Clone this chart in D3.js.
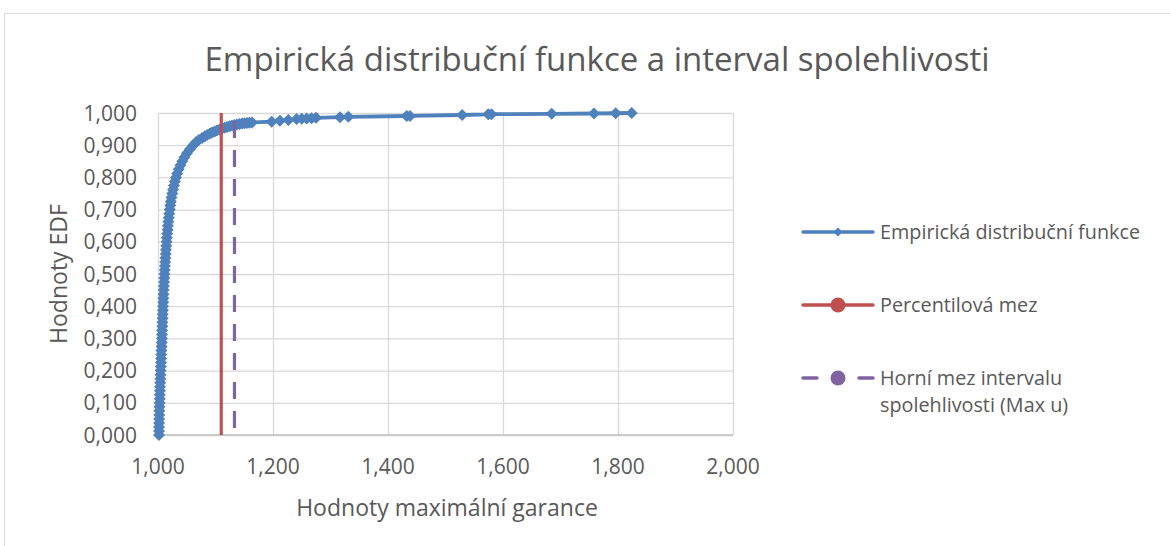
<!DOCTYPE html>
<html>
<head>
<meta charset="utf-8">
<script src="https://cdn.jsdelivr.net/npm/d3@7"></script>
<style>
  body { margin: 0; background: #fff; }
  svg text { font-family: "Open Sans", sans-serif; fill: #595959; }
</style>
</head>
<body>
<div class="container"></div>
<script>
// values
var xTicks = [1.0, 1.2, 1.4, 1.6, 1.8, 2.0];
var yTicks = [0, 0.1, 0.2, 0.3, 0.4, 0.5, 0.6, 0.7, 0.8, 0.9, 1.0];

// empirical distribution function (x, edf)
var edfX = [
  1.0017, 1.0017, 1.0018, 1.0019, 1.0021, 1.0022, 1.0024, 1.0026, 1.0028, 1.0030,
  1.0032, 1.0034, 1.0036, 1.0038, 1.0041, 1.0043, 1.0046, 1.0049, 1.0052, 1.0054,
  1.0057, 1.0059, 1.0062, 1.0064, 1.0067, 1.0070, 1.0072, 1.0075, 1.0077, 1.0080,
  1.0082, 1.0085, 1.0088, 1.0090, 1.0093, 1.0096, 1.0099, 1.0102, 1.0106, 1.0110,
  1.0113, 1.0117, 1.0121, 1.0125, 1.0129, 1.0134, 1.0138, 1.0143, 1.0149, 1.0154,
  1.0160, 1.0166, 1.0173, 1.0180, 1.0187, 1.0195, 1.0204, 1.0213, 1.0223, 1.0235,
  1.0248, 1.0262, 1.0277, 1.0294, 1.0313, 1.0334, 1.0360, 1.0390, 1.0423, 1.0460,
  1.0503, 1.0554, 1.0612, 1.0660, 1.0710, 1.0765, 1.0810, 1.0852, 1.0900, 1.0939,
  1.0985, 1.1026, 1.1070, 1.1113, 1.1157, 1.1200, 1.1245, 1.1287, 1.1330, 1.1374,
  1.1418, 1.1461, 1.1505, 1.1548, 1.1590, 1.1635,
  1.1977, 1.2120, 1.2266, 1.2410, 1.2500, 1.2586, 1.2670, 1.2748, 1.3165, 1.3310,
  1.4325, 1.4383, 1.5290, 1.5744, 1.5800, 1.6847, 1.7583, 1.7960, 1.8238
];
var edfY = [
  0.0000, 0.0125, 0.0250, 0.0375, 0.0500, 0.0625, 0.0750, 0.0875, 0.1000, 0.1125,
  0.1250, 0.1375, 0.1500, 0.1625, 0.1750, 0.1875, 0.2000, 0.2125, 0.2250, 0.2375,
  0.2500, 0.2625, 0.2750, 0.2875, 0.3000, 0.3125, 0.3250, 0.3375, 0.3500, 0.3625,
  0.3750, 0.3875, 0.4000, 0.4125, 0.4250, 0.4375, 0.4500, 0.4625, 0.4750, 0.4875,
  0.5000, 0.5125, 0.5250, 0.5375, 0.5500, 0.5625, 0.5750, 0.5875, 0.6000, 0.6125,
  0.6250, 0.6375, 0.6500, 0.6625, 0.6750, 0.6875, 0.7000, 0.7125, 0.7250, 0.7375,
  0.7500, 0.7625, 0.7750, 0.7875, 0.8000, 0.8125, 0.8250, 0.8375, 0.8500, 0.8625,
  0.8750, 0.8875, 0.9000, 0.9095, 0.9160, 0.9224, 0.9270, 0.9317, 0.9357, 0.9394,
  0.9427, 0.9457, 0.9490, 0.9519, 0.9542, 0.9565, 0.9590, 0.9612, 0.9628, 0.9643,
  0.9660, 0.9674, 0.9682, 0.9689, 0.9697, 0.9705,
  0.9730, 0.9760, 0.9780, 0.9810, 0.9820, 0.9830, 0.9840, 0.9850, 0.9870, 0.9880,
  0.9907, 0.9910, 0.9938, 0.9960, 0.9965, 0.9975, 0.9985, 0.9992, 1.0000
];

// vertical limits
var percentilX = [1.110, 1.110];
var percentilY = [0, 1];
var horniX = [1.133, 1.133];
var horniY = [1, 0];

var legendLabels = ["Empirická distribuční funkce", "Percentilová mez", "Horní mez intervalu", "spolehlivosti (Max u)"];

var W = 1170, H = 546;
var blue = "#4f81bd", red = "#c0504d", purple = "#8064a2";

//Makes the stage
function makeStage(w, h) {
  var stage = d3.select(".container")
    .insert("svg")
    .attr("width", w)
    .attr("height", h);
  stage.append("rect")
    .attr("x", 4.5).attr("y", 13.5)
    .attr("width", w + 10).attr("height", h + 10)
    .attr("fill", "#fff").attr("stroke", "#d9d9d9");
  return stage;
}

var stage = makeStage(W, H);

var x = d3.scaleLinear().domain([1, 2]).range([158, 733]);
var y = d3.scaleLinear().domain([0, 1]).range([435, 113]);

var cz = d3.formatLocale({decimal: ",", thousands: " ", grouping: [3], currency: ["", ""]});
var fmt = cz.format(".3f");

// gridlines
stage.append("g")
  .attr("transform", "translate(0," + y(0) + ")")
  .call(d3.axisBottom(x).tickValues(xTicks).tickSize(-(y(0) - y(1))).tickFormat(""))
  .call(function(g) {
    g.select(".domain").remove();
    g.selectAll("line").attr("stroke", "#d9d9d9").attr("stroke-width", 1.3);
  });

stage.append("g")
  .attr("transform", "translate(" + x(1) + ",0)")
  .call(d3.axisLeft(y).tickValues(yTicks).tickSize(-(x(2) - x(1))).tickFormat(""))
  .call(function(g) {
    g.select(".domain").remove();
    g.selectAll("line").attr("stroke", "#d9d9d9").attr("stroke-width", 1.3);
  });

// bottom axis line
stage.append("line")
  .attr("x1", x(1)).attr("x2", x(2))
  .attr("y1", y(0)).attr("y2", y(0))
  .attr("stroke", "#bfbfbf").attr("stroke-width", 1.3);

// tick labels
stage.append("g").selectAll("text").data(xTicks).enter().append("text")
  .attr("x", function(d) { return x(d); })
  .attr("y", 474)
  .attr("text-anchor", "middle")
  .attr("font-size", 21)
  .text(function(d) { return fmt(d); });

stage.append("g").selectAll("text").data(yTicks).enter().append("text")
  .attr("x", 137)
  .attr("y", function(d) { return y(d); })
  .attr("dy", "0.36em")
  .attr("text-anchor", "end")
  .attr("font-size", 21)
  .text(function(d) { return fmt(d); });

// titles
stage.append("text")
  .attr("x", 597).attr("y", 71)
  .attr("text-anchor", "middle")
  .attr("font-size", 33)
  .text("Empirická distribuční funkce a interval spolehlivosti");

stage.append("text")
  .attr("x", 447).attr("y", 516)
  .attr("text-anchor", "middle")
  .attr("font-size", 23)
  .text("Hodnoty maximální garance");

stage.append("text")
  .attr("transform", "translate(67," + ((y(0) + y(1)) / 2) + ") rotate(-90)")
  .attr("text-anchor", "middle")
  .attr("font-size", 23)
  .text("Hodnoty EDF");

// EDF series
var edf = edfX.map(function(d, i) { return [d, edfY[i]]; });
var line = d3.line().x(function(d) { return x(d[0]); }).y(function(d) { return y(d[1]); });
var diamond = "M0,-6L6,0L0,6L-6,0Z";

stage.append("path")
  .datum(edf)
  .attr("d", line)
  .attr("fill", "none")
  .attr("stroke", blue)
  .attr("stroke-width", 3.8)
  .attr("stroke-linejoin", "round");

stage.append("g").selectAll("path").data(edf).enter().append("path")
  .attr("d", diamond)
  .attr("transform", function(d) { return "translate(" + x(d[0]) + "," + y(d[1]) + ")"; })
  .attr("fill", blue);

// percentile limit
stage.append("path")
  .datum(percentilX.map(function(d, i) { return [d, percentilY[i]]; }))
  .attr("d", line)
  .attr("stroke", red)
  .attr("stroke-width", 3.2);

// upper confidence limit
stage.append("path")
  .datum(horniX.map(function(d, i) { return [d, horniY[i]]; }))
  .attr("d", line)
  .attr("stroke", purple)
  .attr("stroke-width", 3.2)
  .attr("stroke-dasharray", "17,12")
  .attr("stroke-dashoffset", 21);

// legend
var lg = stage.append("g");
var rows = [232, 305, 378];

lg.append("line").attr("x1", 803).attr("x2", 873).attr("y1", rows[0]).attr("y2", rows[0])
  .attr("stroke", blue).attr("stroke-width", 3.5).attr("stroke-linecap", "round");
lg.append("path").attr("d", "M0,-4.5L4.5,0L0,4.5L-4.5,0Z")
  .attr("transform", "translate(838," + rows[0] + ")").attr("fill", blue);

lg.append("line").attr("x1", 803).attr("x2", 873).attr("y1", rows[1]).attr("y2", rows[1])
  .attr("stroke", red).attr("stroke-width", 3.5).attr("stroke-linecap", "round");
lg.append("circle").attr("cx", 838).attr("cy", rows[1]).attr("r", 7.5).attr("fill", red);

lg.append("line").attr("x1", 803).attr("x2", 817).attr("y1", rows[2]).attr("y2", rows[2])
  .attr("stroke", purple).attr("stroke-width", 3.5).attr("stroke-linecap", "round");
lg.append("line").attr("x1", 859).attr("x2", 873).attr("y1", rows[2]).attr("y2", rows[2])
  .attr("stroke", purple).attr("stroke-width", 3.5).attr("stroke-linecap", "round");
lg.append("circle").attr("cx", 838).attr("cy", rows[2]).attr("r", 7.5).attr("fill", purple);

lg.selectAll("text").data(legendLabels).enter().append("text")
  .attr("x", 880)
  .attr("y", function(d, i) { return i < 3 ? rows[i] : rows[2] + 27; })
  .attr("dy", "0.36em")
  .attr("font-size", 19.8)
  .text(function(d) { return d; });
</script>
</body>
</html>
